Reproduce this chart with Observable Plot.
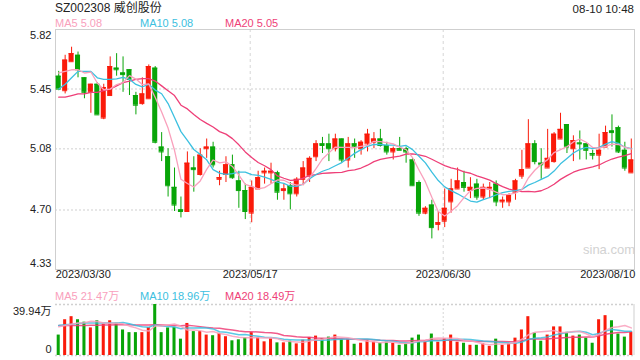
<!DOCTYPE html>
<html><head><meta charset="utf-8">
<script src="https://cdn.jsdelivr.net/npm/d3@7"></script>
<script src="https://cdn.jsdelivr.net/npm/@observablehq/plot@0.6"></script>
<style>
body{margin:0;background:#fff;}
#root{position:relative;width:640px;height:360px;overflow:hidden;font-family:"Liberation Sans",Arial,"Noto Sans CJK SC",sans-serif;color:#222;}
.t{position:absolute;white-space:nowrap;line-height:1;}
#root svg{position:absolute;left:0;overflow:visible;}
</style></head><body><div id="root"></div>
<script>
const dates = ["2023/03/30","2023/03/31",
"2023/04/03","2023/04/04","2023/04/06","2023/04/07","2023/04/10","2023/04/11","2023/04/12","2023/04/13","2023/04/14","2023/04/17","2023/04/18","2023/04/19","2023/04/20","2023/04/21","2023/04/24","2023/04/25","2023/04/26","2023/04/27","2023/04/28",
"2023/05/04","2023/05/05","2023/05/08","2023/05/09","2023/05/10","2023/05/11","2023/05/12","2023/05/15","2023/05/16","2023/05/17","2023/05/18","2023/05/19","2023/05/22","2023/05/23","2023/05/24","2023/05/25","2023/05/26","2023/05/29","2023/05/30","2023/05/31",
"2023/06/01","2023/06/02","2023/06/05","2023/06/06","2023/06/07","2023/06/08","2023/06/09","2023/06/12","2023/06/13","2023/06/14","2023/06/15","2023/06/16","2023/06/19","2023/06/20","2023/06/21","2023/06/26","2023/06/27","2023/06/28","2023/06/29","2023/06/30",
"2023/07/03","2023/07/04","2023/07/05","2023/07/06","2023/07/07","2023/07/10","2023/07/11","2023/07/12","2023/07/13","2023/07/14","2023/07/17","2023/07/18","2023/07/19","2023/07/20","2023/07/21","2023/07/24","2023/07/25","2023/07/26","2023/07/27","2023/07/28","2023/07/31",
"2023/08/01","2023/08/02","2023/08/03","2023/08/04","2023/08/07","2023/08/08","2023/08/09","2023/08/10"];

const open  = [5.53,5.44,5.62,5.66,5.52,5.43,5.48,5.27,5.41,5.58, 5.55,5.57,5.41,5.36,5.39,5.58,5.09,5.03,4.84,4.70,
               4.69,4.96,4.92,5.08,5.09,4.89,4.92,4.98,4.88,4.82, 4.68,4.83,4.93,4.93,4.93,4.82,4.85,4.80,4.89,4.91,
               5.03,5.11,5.11,5.08,5.14,5.01,5.11,5.08,5.11,5.12, 5.14,5.10,5.06,5.08,5.08,5.01,4.87,4.68,4.73,4.61,
               4.63,4.75,4.83,4.87,4.82,4.86,4.78,4.83,4.86,4.75, 4.75,4.81,4.91,4.96,5.11,4.99,4.96,5.00,5.14,5.23,
               5.08,5.115,5.11,5.05,5.04,5.09,5.19,5.21,5.07,4.93];
const high  = [5.56,5.66,5.71,5.68,5.52,5.48,5.49,5.48,5.65,5.67, 5.65,5.57,5.43,5.52,5.60,5.59,5.18,5.08,4.96,4.78,
               5.06,5.03,5.08,5.14,5.12,4.94,5.03,5.04,4.94,4.86, 4.88,4.94,4.96,4.99,4.94,4.86,4.87,4.90,5.00,5.03,
               5.13,5.15,5.17,5.17,5.14,5.15,5.14,5.13,5.20,5.18, 5.20,5.12,5.09,5.15,5.09,5.02,4.88,4.72,4.76,4.69,
               4.83,4.89,4.96,4.94,4.90,4.89,4.86,4.87,4.88,4.78, 4.80,4.89,5.07,5.26,5.13,5.08,5.20,5.18,5.30,5.23,
               5.16,5.19,5.11,5.07,5.17,5.22,5.29,5.22,5.12,5.14];
const low   = [5.44,5.42,5.62,5.52,5.39,5.30,5.29,5.26,5.41,5.53, 5.43,5.41,5.29,5.35,5.39,5.11,5.00,4.78,4.69,4.65,
               4.69,4.81,4.91,5.02,4.96,4.85,4.87,4.89,4.71,4.64, 4.62,4.83,4.86,4.86,4.76,4.76,4.70,4.78,4.85,4.87,
               5.00,5.05,5.00,5.06,4.99,4.96,5.02,5.04,5.06,5.08, 5.09,5.04,5.01,5.07,4.99,4.85,4.66,4.67,4.52,4.57,
               4.59,4.68,4.83,4.81,4.77,4.76,4.76,4.77,4.72,4.71, 4.72,4.76,4.89,4.96,4.98,4.89,4.96,4.99,5.14,5.05,
               5.00,5.01,5.01,5.01,4.95,5.09,5.09,5.05,4.94,4.93];
const close = [5.45,5.63,5.67,5.57,5.43,5.48,5.29,5.46,5.59,5.57, 5.54,5.51,5.35,5.42,5.59,5.12,5.06,4.85,4.73,4.69,
               4.99,4.95,5.04,5.09,4.98,4.90,4.98,4.90,4.82,4.69, 4.84,4.90,4.94,4.94,4.81,4.83,4.80,4.89,4.96,5.02,
               5.11,5.10,5.08,5.14,5.01,5.11,5.09,5.12,5.17,5.14, 5.10,5.06,5.08,5.07,5.06,4.85,4.68,4.71,4.59,4.62,
               4.71,4.83,4.88,4.84,4.84,4.78,4.84,4.84,4.75,4.76, 4.79,4.88,4.95,5.11,5.00,4.98,5.02,5.17,5.20,5.09,
               5.13,5.11,5.07,5.04,5.07,5.18,5.18,5.06,4.96,5.01];
// volume, 万股
const volume = [16,28,30.4,28,26.1,21.6,27.2,24.5,27.2,25.3, 20,17.9,17.9,17.9,21.9,39.94,17.9,21.6,22.1,12.8,
                25.1,18.7,18.7,16,15.5,17.3,14.7,11.5,12.3,13.9, 17.9,13.9,10.7,13.1,9.9,9.9,11.2,9.1,12,14.1,
                15.2,13.3,14.4,16,12.5,13.1,8.8,9.6,11.5,10.4, 9.6,10.4,9.6,8,9.1,13.6,16,11.5,16.8,10.4,
                13.3,16,10.4,9.6,8,8,9.1,7.2,12.8,8, 9.1,13.6,20,30.4,17.6,11.2,16,22.4,22.4,18.1,
                15.2,16,13.6,9.6,28,31.2,27.2,16.8,14.4,18.4];

// moving-average values before a full window exists
const ma5Head  = [5.55,5.56,5.57,5.57];
const ma10Head = [5.45,5.48,5.52,5.56,5.56,5.56,5.52,5.51,5.51];
const ma20Head = [5.40,5.40,5.41,5.42,5.42,5.43,5.43,5.44,5.45,5.47,5.49,5.50,5.51,5.515,5.515,5.50,5.47,5.44,5.41];
const vma5Head  = [22.6,23.5,24.5,25.5];
const vma10Head = [23.5,24,24.5,25,25.5,25.5,25.5,25.5,25.5];
const vma20Head = [23.4,23.4,23.4,23.5,23.5,23.6,23.7,23.8,23.9,24,24,24,23.9,23.8,23.8,24,23.8,23.6,23.4];

const priceTicks = [5.82,5.45,5.08,4.70,4.33];
const dateTicks = ["2023/03/30","2023/05/17","2023/06/30","2023/08/10"];
const volTicks = [39.94,0];
const title = "SZ002308 威创股份";
const stamp = "08-10 10:48";
const priceLegend = [["MA5 5.08","#f9a0bc"],["MA10 5.08","#3cc0e0"],["MA20 5.05","#ee3f78"]];
const volLegend = [["MA5 21.47万","#f9a0bc"],["MA10 18.96万","#3cc0e0"],["MA20 18.49万","#ee3f78"]];

const RED = "#fa1a0a", GREEN = "#08a508";
const C5 = "#f9a0bc", C10 = "#3cc0e0", C20 = "#ee3f78";

function movAvg(vals, k, head){
  return vals.map((v,i)=>{
    if (i < k-1) return head[i];
    let s = 0; for (let j=i-k+1;j<=i;j++) s += vals[j];
    return s/k;
  });
}
const candles = dates.map((d,i)=>({date:d,open:open[i],high:high[i],low:low[i],close:close[i],vol:volume[i],
  col: close[i] >= open[i] ? RED : GREEN}));
const m5 = movAvg(close,5,ma5Head), m10 = movAvg(close,10,ma10Head), m20 = movAvg(close,20,ma20Head);
const v5 = movAvg(volume,5,vma5Head), v10 = movAvg(volume,10,vma10Head), v20 = movAvg(volume,20,vma20Head);
const series = (arr)=>dates.map((d,i)=>({date:d,v:arr[i]}));

const font = '"Liberation Sans",Arial,"Noto Sans CJK SC",sans-serif';
const root = document.getElementById("root");

const price = Plot.plot({
  width:640, height:290, marginLeft:55, marginRight:6, marginTop:29, marginBottom:21,
  x:{type:"band", domain:dates, padding:0, axis:null},
  y:{domain:[4.33,5.82], axis:null},
  style:{fontFamily:font, fontSize:"11px", color:"#222", background:"transparent", overflow:"visible"},
  marks:[
    Plot.ruleY(priceTicks.slice(1,-1), {stroke:"#e0e0e0", strokeWidth:1.5, strokeDasharray:"2,2"}),
    Plot.ruleX(dateTicks.slice(1,-1), {x:d=>d, stroke:"#d6d6d6", strokeDasharray:"3,3", dx:-1.5}),
    Plot.frame({stroke:"#cfcfcf"}),
    Plot.ruleX(candles, {x:"date", y1:"low", y2:"high", stroke:"col"}),
    Plot.barY(candles, {x:"date", y1:"open", y2:"close", fill:"col", insetLeft:0.7, insetRight:0.7}),
    Plot.tickY(candles, {x:"date", y:"close", stroke:"col", insetLeft:0.7, insetRight:0.7}),
    Plot.tickY(candles, {x:"date", y:"open", stroke:"col", insetLeft:0.7, insetRight:0.7}),
    Plot.line(series(m20), {x:"date", y:"v", stroke:C20, strokeWidth:1.3}),
    Plot.line(series(m10), {x:"date", y:"v", stroke:C10, strokeWidth:1.3}),
    Plot.line(series(m5), {x:"date", y:"v", stroke:C5, strokeWidth:1.3}),
    Plot.text(priceTicks.slice(1,-1), {y:d=>d, text:d=>d.toFixed(2), frameAnchor:"left", textAnchor:"end", dx:-4, fill:"#222"}),
    Plot.text(priceTicks.slice(0,1), {y:d=>d, text:d=>d.toFixed(2), frameAnchor:"left", textAnchor:"end", dx:-4, dy:6, fill:"#222"}),
    Plot.text(priceTicks.slice(-1), {y:d=>d, text:d=>d.toFixed(2), frameAnchor:"left", textAnchor:"end", dx:-4, dy:-6, fill:"#222"}),
    Plot.text(dateTicks.slice(0,1), {x:d=>d, text:d=>d, frameAnchor:"bottom", textAnchor:"start", dx:-3, dy:8, fill:"#222"}),
    Plot.text(dateTicks.slice(1,-1), {x:d=>d, text:d=>d, frameAnchor:"bottom", textAnchor:"middle", dx:-1.5, dy:8, fill:"#222"}),
    Plot.text(dateTicks.slice(-1), {x:d=>d, text:d=>d, frameAnchor:"bottom", textAnchor:"end", dx:4, dy:8, fill:"#222"})
  ]
});
price.style.top = "0px";
root.appendChild(price);

const vol = Plot.plot({
  width:640, height:80, marginLeft:55, marginRight:6, marginTop:24, marginBottom:5,
  x:{type:"band", domain:dates, padding:0, axis:null},
  y:{domain:[0,39.94], axis:null},
  style:{fontFamily:font, fontSize:"11px", color:"#222", background:"transparent", overflow:"visible"},
  marks:[
    Plot.ruleY(volTicks, {stroke:"#d0d0d0", strokeWidth:1.5, strokeDasharray:"2,2"}),
    Plot.ruleX(dateTicks.slice(1,-1), {x:d=>d, stroke:"#d6d6d6", strokeDasharray:"2,2", dx:-1.5}),
    Plot.barY(candles, {x:"date", y:"vol", fill:"col", insetLeft:1.7, insetRight:1.7}),
    Plot.line(series(v20), {x:"date", y:"v", stroke:C20, strokeWidth:1.5, strokeOpacity:0.85}),
    Plot.line(series(v10), {x:"date", y:"v", stroke:C10, strokeWidth:1.5, strokeOpacity:0.85}),
    Plot.line(series(v5), {x:"date", y:"v", stroke:C5, strokeWidth:1.5, strokeOpacity:0.85}),
    Plot.text(volTicks.slice(0,1), {y:d=>d, text:d=>d+"万", frameAnchor:"left", textAnchor:"end", dx:-4, dy:7, fill:"#222"}),
    Plot.text(volTicks.slice(1), {y:d=>d, text:d=>String(d), frameAnchor:"left", textAnchor:"end", dx:-4, dy:-6, fill:"#222"})
  ]
});
vol.style.top = "280px";
root.appendChild(vol);
// right border of the volume panel
d3.select(vol).append("line").attr("x1",634).attr("x2",634).attr("y1",24).attr("y2",75).attr("stroke","#cfcfcf");

function addText(txt, css){
  const el = document.createElement("div");
  el.className = "t"; el.textContent = txt;
  Object.assign(el.style, css);
  root.appendChild(el);
}
addText(title, {left:"55px", top:"2px", fontSize:"12px", color:"#222"});
addText(stamp, {right:"6px", top:"4px", fontSize:"11.5px", color:"#222"});
const legendX = [55,140,225];
priceLegend.forEach(([t,c],i)=>addText(t,{left:legendX[i]+"px", top:"18px", fontSize:"11px", color:c}));
volLegend.forEach(([t,c],i)=>addText(t,{left:legendX[i]+"px", top:"291px", fontSize:"11px", color:c}));
addText("sina.com", {left:"583px", top:"243px", fontSize:"13px", color:"#d2d2d2"});
</script></body></html>
